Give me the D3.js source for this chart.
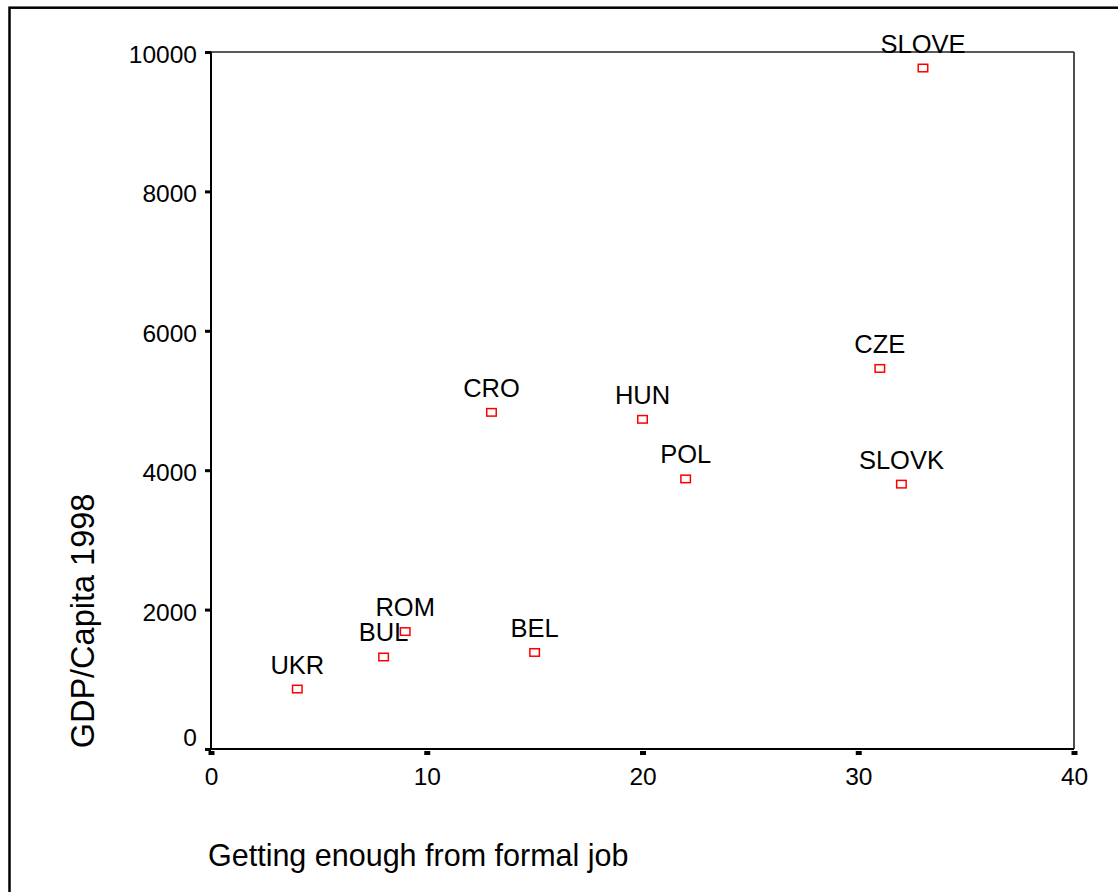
<!DOCTYPE html>
<html>
<head>
<meta charset="utf-8">
<script src="https://cdn.jsdelivr.net/npm/d3@7"></script>
<style>
  html, body { margin: 0; padding: 0; background: #fff; }
  svg { display: block; }
  text { font-family: "Liberation Sans", Arial, sans-serif; fill: #000; }
</style>
</head>
<body>
<svg id="chart" width="1118" height="892"></svg>
<script>
// ---- data ----
const countries = ["SLOVE", "CZE", "CRO", "HUN", "POL", "SLOVK", "ROM", "BUL", "BEL", "UKR"];
const jobValues = [33, 31, 13, 20, 22, 32, 9, 8, 15, 4];
const gdpValues = [9770, 5460, 4830, 4730, 3875, 3800, 1685, 1320, 1385, 860];
const xTicks = [0, 10, 20, 30, 40];
const yTicks = [0, 2000, 4000, 6000, 8000, 10000];
const xTitle = "Getting enough from formal job";
const yTitle = "GDP/Capita 1998";

(function () {
const points = countries.map((c, i) => ({ name: c, x: jobValues[i], y: gdpValues[i] }));

const svg = d3.select("#chart");
const pLeft = 211, pRight = 1074, pTop = 52, pBottom = 749;

const x = d3.scaleLinear().domain([0, 40]).range([pLeft, pRight]);
const y = d3.scaleLinear().domain([0, 10000]).range([pBottom, pTop]);

// outer border
svg.append("rect")
  .attr("x", 9.5).attr("y", 7.7)
  .attr("width", 1300).attr("height", 1200)
  .attr("fill", "none").attr("stroke", "#000").attr("stroke-width", 2.5);

// frame top & right
svg.append("line").attr("x1", pLeft).attr("x2", pRight).attr("y1", pTop).attr("y2", pTop)
  .attr("stroke", "#222").attr("stroke-width", 1.6);
svg.append("line").attr("x1", pRight).attr("x2", pRight).attr("y1", pTop).attr("y2", pBottom)
  .attr("stroke", "#222").attr("stroke-width", 1.6);

// x axis
const gx = svg.append("g").attr("transform", `translate(0,${pBottom})`)
  .call(d3.axisBottom(x).tickValues(xTicks).tickFormat(d3.format("d")).tickSize(6));
gx.select(".domain").remove();
gx.selectAll(".tick line").attr("y1", 2).attr("y2", 6).attr("stroke", "#000").attr("stroke-width", 6);
gx.selectAll(".tick text").attr("y", 36).attr("dy", 0)
  .style("font-size", "24.5px").attr("fill", "#000");

// y axis
const gy = svg.append("g").attr("transform", `translate(${pLeft},0)`)
  .call(d3.axisLeft(y).tickValues(yTicks).tickFormat(d3.format("d")).tickSize(6));
gy.select(".domain").remove();
gy.selectAll(".tick line").attr("x1", -6).attr("x2", 0).attr("stroke", "#000").attr("stroke-width", 3);
gy.selectAll(".tick text").attr("x", -14).attr("dy", 0)
  .attr("y", d => d === 0 ? -4 : 10.5)
  .style("font-size", "24.5px").attr("text-anchor", "end").attr("fill", "#000");

// axis lines
svg.append("line").attr("x1", pLeft).attr("x2", pLeft).attr("y1", pTop).attr("y2", pBottom + 1)
  .attr("stroke", "#000").attr("stroke-width", 2);
svg.append("line").attr("x1", pLeft - 1).attr("x2", pRight).attr("y1", pBottom).attr("y2", pBottom)
  .attr("stroke", "#000").attr("stroke-width", 2);

// axis titles
svg.append("text").attr("x", 208).attr("y", 866)
  .style("font-size", "30.5px").text(xTitle);
svg.append("text")
  .attr("transform", `translate(94,${621}) rotate(-90)`)
  .attr("text-anchor", "middle")
  .style("font-size", "32.5px").text(yTitle);

// points
svg.append("g").selectAll("rect").data(points).join("rect")
  .attr("x", d => x(d.x) - 4.75).attr("y", d => y(d.y) - 3.75)
  .attr("width", 9.5).attr("height", 7.5)
  .attr("fill", "#fff").attr("stroke", "#ff0000").attr("stroke-width", 1.5);

// labels
svg.append("g").selectAll("text").data(points).join("text")
  .attr("x", d => x(d.x)).attr("y", d => y(d.y) - 15.5)
  .attr("text-anchor", "middle")
  .style("font-size", "25.5px").text(d => d.name);
})();
</script>
</body>
</html>
